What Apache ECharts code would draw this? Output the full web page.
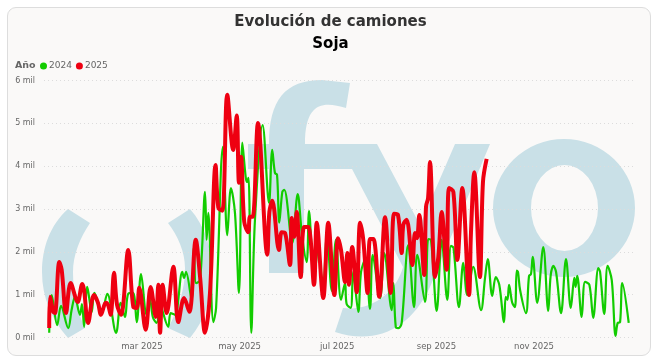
<!DOCTYPE html>
<html><head><meta charset="utf-8">
<style>
html,body{margin:0;padding:0;background:#fff;width:657px;height:363px;overflow:hidden}
#card{position:absolute;left:7px;top:7px;width:644px;height:349px;box-sizing:border-box;border:1px solid #ddd;border-radius:9px;background:#faf9f8}
#c{position:absolute;left:0;top:0;width:657px;height:363px}
</style></head><body>
<div id="card"></div><div id="c"></div>
<script src="https://cdn.jsdelivr.net/npm/echarts@6/dist/echarts.min.js"></script>
<script>
const titleText = 'Evolución de camiones';
const subtitleText = 'Soja';
const legendTitle = 'Año';
const seriesNames = ['2024', '2025'];
const monthTicks = [59, 120, 181, 243, 304];
const monthLabels = ['mar 2025', 'may 2025', 'jul 2025', 'sep 2025', 'nov 2025'];
const yTicks = [0, 1000, 2000, 3000, 4000, 5000, 6000];

const days2024 = [1,2.6,6,8.4,12.9,15,17.1,20.2,21.5,22.8,24.8,27.6,29.2,33.8,37.3,42.8,45.7,48.4,50.4,53.4,55.7,58.4,61.9,64,65.9,68.2,70.3,72,75.4,76.9,79.6,84.2,85.3,86.5,90,91.5,92.8,95.3,98.4,99.4,100.4,103.6,105.3,109.6,112.3,114.6,117.1,119.6,121.7,123.8,124.6,125.6,127.3,129.6,134.4,138.4,140.4,142.1,143.4,144.8,146.7,147.9,152.9,156.3,159,161.9,163.4,166.5,169,172.1,174.6,177.6,180.2,183.4,185.9,186.9,189.4,191,194.2,195.9,198.4,201.5,203.2,207.8,210.4,215.1,216.1,217.6,219.2,221.3,225.4,229,231,235.9,237.9,239.6,243.2,246.3,249.8,252.1,253.7,257.1,259.8,262.3,266,270.9,273.4,275.1,277.9,280.1,282.3,285.3,286.3,287.4,288.4,290.4,292.1,293.2,294,295.3,299,300.9,302.1,303.2,306,309.8,312.9,314.4,316.1,317.8,320.9,324,327,329.2,330,331,333.8,335.9,338.6,341,344.2,345.3,347.9,350,352.6,355,356.3,357.8,359.2,363.2];
const values2024 = [.11,.99,.29,.74,.22,.64,.95,.53,.78,.25,1.18,.6,1.04,.57,1.02,.11,.81,.48,1.02,1.04,.36,1.48,.53,.88,.46,.34,.88,.6,.25,.57,.53,1.53,1.39,1.53,.88,2.11,1.27,1.34,3.4,2.28,2.91,.36,.69,4.45,2.39,3.49,2.91,1.04,4.55,3.75,3.63,3.73,.11,2.75,4.96,3.14,4.38,3.84,3.8,2.68,3.4,3.45,2.21,3.35,2.39,1.76,2.95,1.39,2.04,1.11,2.39,1.09,2.28,.88,1.27,.78,.69,1.53,.6,1.53,1.81,.67,1.93,.92,1.97,.64,1.27,.25,.22,.34,2.16,.71,1.93,.83,2.3,2.28,.62,2.28,.88,2.14,2.09,.71,1.74,.99,1.65,.64,1.39,1.83,.97,1.41,1.23,.36,.95,.88,1.23,.81,.71,1.56,1.53,1.11,.57,1.44,1.48,1.88,.81,2.11,.62,1.44,1.67,1.53,.57,1.83,.69,1.39,1.18,1.44,.48,1.3,1.23,.46,1.62,1.53,.55,1.67,1.34,.04,.34,.36,1.27,.34];

const days2025 = [1,1.5,3.6,4.6,7.3,8.8,11.5,14.4,18.8,21.7,22.8,25.3,29,31.5,33.4,36.3,37.8,39.4,41.5,43.4,45.9,50.4,53.6,55.7,57.3,61.3,64.4,67.6,69.2,70.3,71.9,74.4,78.6,81.7,85.3,88.6,92.6,95.3,98.4,101.5,105,106.7,109.2,112.3,116,118.2,119.6,120.9,122.9,125.4,126.5,128.2,131.5,137.3,138.6,140.4,144.6,146.3,148.4,151.5,152.6,154.2,155.7,158.2,160.3,162.9,166.5,168.2,172.3,175.4,179.2,181.5,183.4,185.9,187.3,188.4,190.4,193.2,195.3,197.3,200,201.5,203.6,207.3,210.9,214.4,216.5,219,221.3,222.3,224.4,228,229.6,230.9,232.3,235.4,236.5,237.8,239,242.1,244.2,246.3,249.4,250.9,253.6,256.1,259.2,263.4,264.6,266.7,270.2,272.1,274.4];
const values2025 = [.22,.95,.6,.57,1.76,1.58,.57,1.27,.83,1.25,1.11,.34,.99,.81,.53,.81,.76,.53,1.51,.76,.53,2.04,.71,.69,1.16,.18,1.18,.48,1.23,.11,1.23,.57,1.65,.36,.92,.6,2.28,1.41,.11,1.04,4.03,3.03,2.96,5.67,4.38,5.18,3.61,4.22,2.7,2.46,2.82,2.82,5.01,1.93,2.93,3.19,2.04,2.46,2.44,1.69,2.79,2.35,2.93,1.41,2.58,2.58,1.23,2.68,.92,2.68,.99,2.32,2.04,1.29,1.97,1.23,2.11,1.06,2.68,2.28,1.04,2.3,2.3,.95,2.81,1.04,2.89,2.86,1.97,2.63,2.75,1.69,2.44,2.32,2.86,1.46,3.05,3.26,4.1,1.41,1.88,2.93,1.58,3.49,3.4,1.81,3.49,.99,2.44,3.86,1.41,3.63,4.17];

const pairs = (d, v) => d.map((x, i) => [x, v[i] * 1000]);
const logoColor = '#c9e0e7';
const labelColor = '#666';
const font = '"DejaVu Sans", sans-serif';
const logoPaths = [
  'M68 209 C50 225 42 248 42 272 C42 298 52 320 68 338 L85 328 C77 312 73 292 73 272 C73 255 80 238 90 223 Z',
  'M190 209 L168 223 C178 236 185 252 185 268 C185 290 178 310 168 328 L190 338 C205 320 212 298 212 272 C212 248 205 226 190 209 Z',
  'M269 273 L269 169 L248 169 L248 144 L269 144 C269 100 285 80 322 80 L350 83 L346 108 C325 102 305 100 305 144 L377 144 L420 225 L455 144 L490 144 L430 287 C410 330 375 345 335 332 L343 308 C373 312 397 290 403 267 L352 169 L304 169 L304 273 Z',
  'M493 208 A71 69 0 1 1 635 208 A71 69 0 1 1 493 208 Z M531 208 A33.5 43 0 1 0 598 208 A33.5 43 0 1 0 531 208 Z'
];
logoPaths.forEach((p, i) => echarts.graphic.registerShape('logoPart' + i, echarts.graphic.extendPath(p, {})));

const chart = echarts.init(document.getElementById('c'), null, {renderer: 'canvas'});
chart.setOption({
  animation: false,
  backgroundColor: 'transparent',
  title: [
    {text: titleText, left: 325.5, textAlign: 'center', top: 10, textStyle: {fontFamily: font, fontSize: 15, fontWeight: 'bold', color: '#333'}},
    {text: subtitleText, left: 325.5, textAlign: 'center', top: 32, textStyle: {fontFamily: font, fontSize: 15, fontWeight: 'bold', color: '#000'}}
  ],
  graphic: [
    ...logoPaths.map((p, i) => ({type: 'logoPart' + i, z: 0, silent: true, style: {fill: logoColor}})),
    {type: 'text', left: 15, top: 60.5, z: 5, style: {text: legendTitle, font: 'bold 9.5px ' + font, fill: '#666'}}
  ],
  legend: {
    left: 38, top: 59.5, icon: 'circle', itemWidth: 7, itemHeight: 7, itemGap: 4,
    selectedMode: false, padding: [2, 2],
    textStyle: {fontFamily: font, fontSize: 9, color: labelColor, padding: [0, 0, 0, -3]},
    data: seriesNames
  },
  grid: {left: 44, right: 21, top: 80.5, bottom: 25.5, containLabel: false},
  xAxis: {
    type: 'value', min: -2.25, max: 367.75,
    splitLine: {show: false}, axisLine: {show: false}, axisTick: {show: false},
    axisLabel: {
      customValues: monthTicks,
      formatter: v => monthLabels[monthTicks.indexOf(v)] || '',
      fontFamily: font, fontSize: 8.5, color: labelColor, margin: 5
    }
  },
  yAxis: {
    type: 'value', min: 0, max: 6000, interval: 1000,
    axisLine: {show: false}, axisTick: {show: false},
    splitLine: {show: true, lineStyle: {type: [1, 3], color: '#dcdcdc', width: 1}},
    axisLabel: {
      formatter: v => yTicks.includes(v) ? (v / 1000) + ' mil' : '',
      fontFamily: font, fontSize: 8, color: labelColor, margin: 9
    }
  },
  series: [
    {name: seriesNames[0], type: 'line', z: 3, data: pairs(days2024, values2024), smooth: 0.35, showSymbol: false, lineStyle: {width: 2.2, color: '#12cc00'}, itemStyle: {color: '#12cc00'}},
    {name: seriesNames[1], type: 'line', z: 4, data: pairs(days2025, values2025), smooth: 0.35, showSymbol: false, lineStyle: {width: 4, color: '#ee0011'}, itemStyle: {color: '#ee0011'}}
  ]
});
</script>
</body></html>
